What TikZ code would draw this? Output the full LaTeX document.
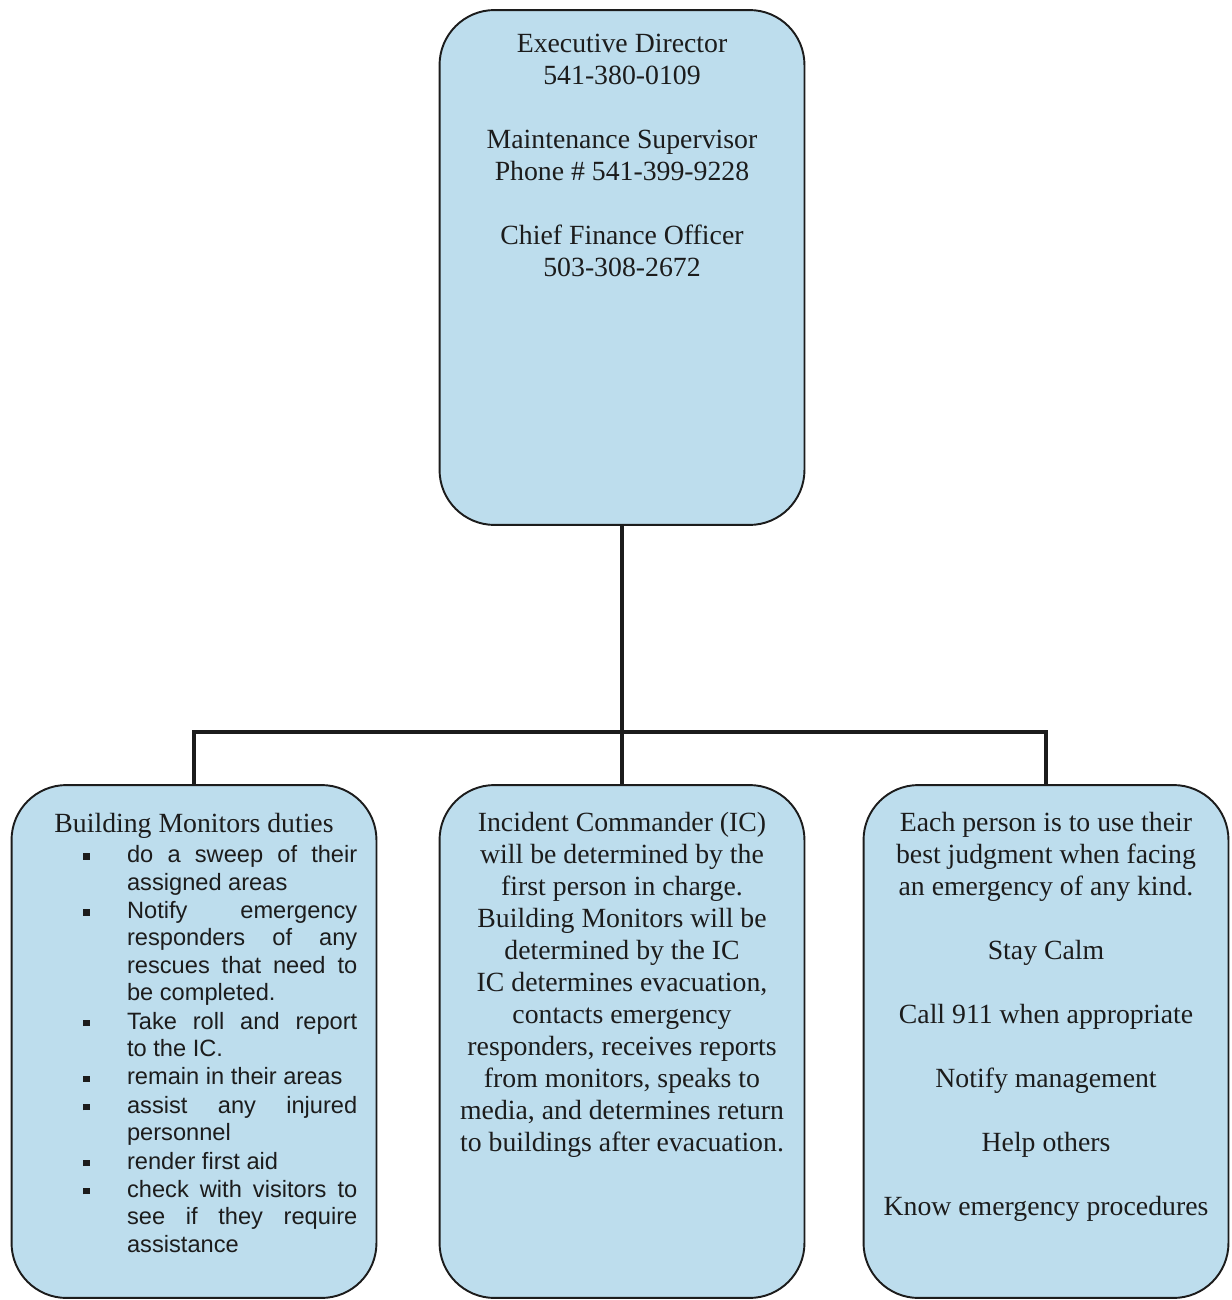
\documentclass[tikz,border=0pt]{standalone}
\usepackage{fontspec}
\setmainfont{Liberation Serif}
\setsansfont{Liberation Sans}
\usepackage{enumitem}

\definecolor{boxblue}{RGB}{189,221,237}
\definecolor{inkgray}{RGB}{28,28,28}

\begin{document}
\begin{tikzpicture}[x=0.02cm, y=-0.02cm,
        box/.style = {draw=inkgray, line width=1.1pt, fill=boxblue, rounded corners=1.1cm,
                      minimum width=7.3cm, inner sep=0pt},
        link/.style = {draw=inkgray, line width=2.8pt},
        boxtext/.style = {anchor=north, inner sep=0pt, align=center, text=inkgray,
                          font={\fontsize{15.8}{18.2}\selectfont}},
        listtext/.style = {anchor=north west, inner sep=0pt, text width=5.48cm, align=justify, text=inkgray,
                           font={\sffamily\fontsize{13.45}{15.6}\selectfont\hyphenpenalty=10000\tolerance=10000\hbadness=10000}}]
        \useasboundingbox (0,0) rectangle (1231,1300);

        % boxes
        \node[box, minimum height=10.3cm] (top) at (622,267.5) {};
        \node[box, minimum height=10.26cm] (left) at (194,1041.5) {};
        \node[box, minimum height=10.26cm] (mid) at (622,1041.5) {};
        \node[box, minimum height=10.26cm] (right) at (1046,1041.5) {};

        % connectors
        \coordinate (bar) at (622,732);
        \draw[link] (top.south) -- (mid.north);
        \draw[link] (left.north) |- (bar) -| (right.north);

        % texts
        \node[boxtext] (toptext) at (622,34) {Executive Director\\ 541-380-0109\\[18.2pt]
                Maintenance Supervisor\\ Phone \# 541-399-9228\\[18.2pt]
                Chief Finance Officer\\ 503-308-2672};
        \node[boxtext] (lefthead) at (194,813) {Building Monitors duties};
        \node[listtext] (leftlist) at (83,835) {%
                \begin{itemize}[leftmargin=24.9pt, labelwidth=3.6pt, labelsep=21.3pt, itemsep=0.55pt,
                                parsep=0pt, topsep=0pt, partopsep=0pt,
                                label={\raisebox{1.7pt}{\rule{3.6pt}{3.6pt}}}]
                \item do a sweep of their\linebreak assigned areas
                \item Notify emergency\linebreak responders of any\linebreak rescues that need to\linebreak be completed.
                \item Take roll and report\linebreak to the IC.
                \item remain in their areas
                \item assist any injured\linebreak personnel
                \item render first aid
                \item check with visitors to\linebreak see if they require\linebreak assistance
                \end{itemize}};
        \node[boxtext] (midtext) at (622,812) {Incident Commander (IC)\\ will be determined by the\\
                first person in charge.\\ Building Monitors will be\\ determined by the IC\\
                IC determines evacuation,\\ contacts emergency\\ responders, receives reports\\
                from monitors, speaks to\\ media, and determines return\\ to buildings after evacuation.};
        \node[boxtext] (righttext) at (1046,812) {Each person is to use their\\ best judgment when facing\\
                an emergency of any kind.\\[18.2pt] Stay Calm\\[18.2pt] Call 911 when appropriate\\[18.2pt]
                Notify management\\[18.2pt] Help others\\[18.2pt] Know emergency procedures};
\end{tikzpicture}
\end{document}
